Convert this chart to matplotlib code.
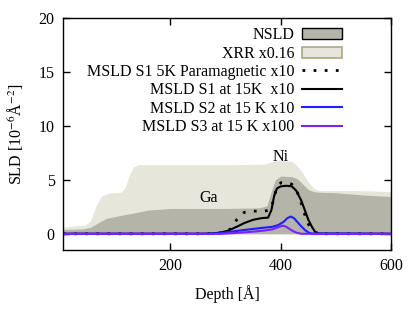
import matplotlib
matplotlib.use("Agg")
import matplotlib.pyplot as plt
from matplotlib.patches import Patch
from matplotlib.lines import Line2D

plt.rcParams["font.family"] = ["Liberation Serif", "DejaVu Serif"]
plt.rcParams["mathtext.fontset"] = "stix"
plt.rcParams["font.size"] = 11.5

# XRR x0.16 profile
depth_xrr = [5, 30, 45, 55, 65, 75, 90, 110, 118, 126, 133, 142, 200, 300, 370,
             385, 400, 420, 430, 440, 450, 460, 470, 500, 550, 600]
sld_xrr = [0.6, 0.75, 0.8, 1.2, 2.6, 3.5, 3.8, 3.85, 4.3, 5.5, 6.2, 6.4, 6.4, 6.4, 6.45,
           6.7, 6.8, 6.7, 6.3, 5.6, 4.8, 4.2, 4.0, 4.0, 4.0, 3.9]

# NSLD profile
depth_nsld = [5, 40, 55, 65, 75, 85, 100, 130, 160, 200, 250, 300, 360, 375, 382,
              390, 400, 420, 430, 440, 450, 460, 470, 500, 550, 600]
sld_nsld = [0.4, 0.45, 0.6, 0.9, 1.2, 1.45, 1.6, 1.9, 2.2, 2.35, 2.35, 2.35, 2.4, 2.6, 3.8,
            5.0, 5.35, 5.3, 5.1, 4.6, 4.1, 3.9, 3.85, 3.8, 3.6, 3.45]

# MSLD S1 5K paramagnetic x10
depth_s1p = [5, 250, 280, 300, 310, 320, 334, 350, 370, 380, 385, 390, 395, 401, 410,
             420, 428, 435, 442, 450, 457, 462, 470, 600]
sld_s1p = [0, 0, 0.02, 0.15, 0.5, 1.3, 2.0, 2.1, 2.1, 2.2, 2.8, 3.8, 4.5, 4.75, 4.75,
           4.6, 4.1, 3.2, 2.0, 0.9, 0.3, 0.05, 0, 0]

# MSLD S1 at 15K x10
depth_s1 = [5, 250, 270, 290, 305, 320, 334, 350, 365, 377, 383, 388, 393, 400, 410,
            420, 428, 437, 445, 450, 457, 462, 470, 600]
sld_s1 = [0, 0, 0.02, 0.1, 0.3, 0.65, 1.0, 1.3, 1.45, 1.5, 2.2, 3.5, 4.2, 4.4, 4.45,
          4.4, 4.0, 3.1, 2.0, 1.3, 0.6, 0.2, 0.02, 0]

# MSLD S2 at 15 K x10
depth_s2 = [5, 270, 290, 310, 330, 350, 370, 385, 395, 405, 412, 418, 424, 430, 437,
            444, 450, 456, 600]
sld_s2 = [0, 0, 0.05, 0.2, 0.33, 0.45, 0.57, 0.65, 0.8, 1.1, 1.45, 1.6, 1.45, 1.1, 0.7,
          0.35, 0.12, 0.02, 0]

# MSLD S3 at 15 K x100
depth_s3 = [5, 290, 310, 330, 350, 370, 385, 395, 400, 404, 410, 416, 422, 430, 438, 600]
sld_s3 = [0, 0, 0.05, 0.12, 0.2, 0.3, 0.42, 0.6, 0.7, 0.75, 0.65, 0.45, 0.25, 0.08, 0, 0]

c_xrr = "#e6e6da"
c_nsld = "#b4b4a8"
c_blue = "#1e1eff"
c_purple = "#7b22ff"

fig = plt.figure(figsize=(4.16, 3.09), dpi=100)
ax = fig.add_axes([0.1514, 0.191, 0.7886, 0.7507])

ax.fill_between(depth_xrr, 0, sld_xrr, color=c_xrr, lw=0)
ax.fill_between(depth_nsld, 0, sld_nsld, color=c_nsld, lw=0)
ax.plot(depth_s1p, sld_s1p, color="black", lw=2, ls=(0, (1, 3)))
ax.plot(depth_s1, sld_s1, color="black", lw=1.5)
ax.plot(depth_s2, sld_s2, color=c_blue, lw=1.5)
ax.plot(depth_s3, sld_s3, color=c_purple, lw=1.5)

ax.text(400, 7.1, "Ni", ha="center", va="center")
ax.text(270, 3.3, "Ga", ha="center", va="center")

ax.set_xlim(5, 600)
ax.set_ylim(-1.5, 20)
ax.set_xticks([200, 400, 600])
ax.set_yticks([0, 5, 10, 15, 20])
ax.tick_params(direction="in", top=True, right=True, length=5, width=1, pad=6)
for s in ax.spines.values():
    s.set_linewidth(1)
ax.set_xlabel("Depth [Å]", labelpad=8)
ax.set_ylabel("SLD [10$^{-6}$Å$^{-2}$]", labelpad=10)

handles = [
    Patch(facecolor=c_nsld, edgecolor="black", lw=1),
    Patch(facecolor=c_xrr, edgecolor="#a8a884", lw=1.2),
    Line2D([], [], color="black", lw=2, ls=(0, (1, 3))),
    Line2D([], [], color="black", lw=1.5),
    Line2D([], [], color=c_blue, lw=1.5),
    Line2D([], [], color=c_purple, lw=1.5),
]
labels = ["NSLD", "XRR x0.16", "MSLD S1 5K Paramagnetic x10",
          "MSLD S1 at 15K  x10", "MSLD S2 at 15 K x10", "MSLD S3 at 15 K x100"]
ax.legend(handles, labels, loc="upper right", bbox_to_anchor=(0.85, 0.96),
          frameon=False, markerfirst=False, handlelength=2.5, handletextpad=0.45,
          labelspacing=0.15, borderpad=0, borderaxespad=0)

fig.savefig("out.png", dpi=100)
